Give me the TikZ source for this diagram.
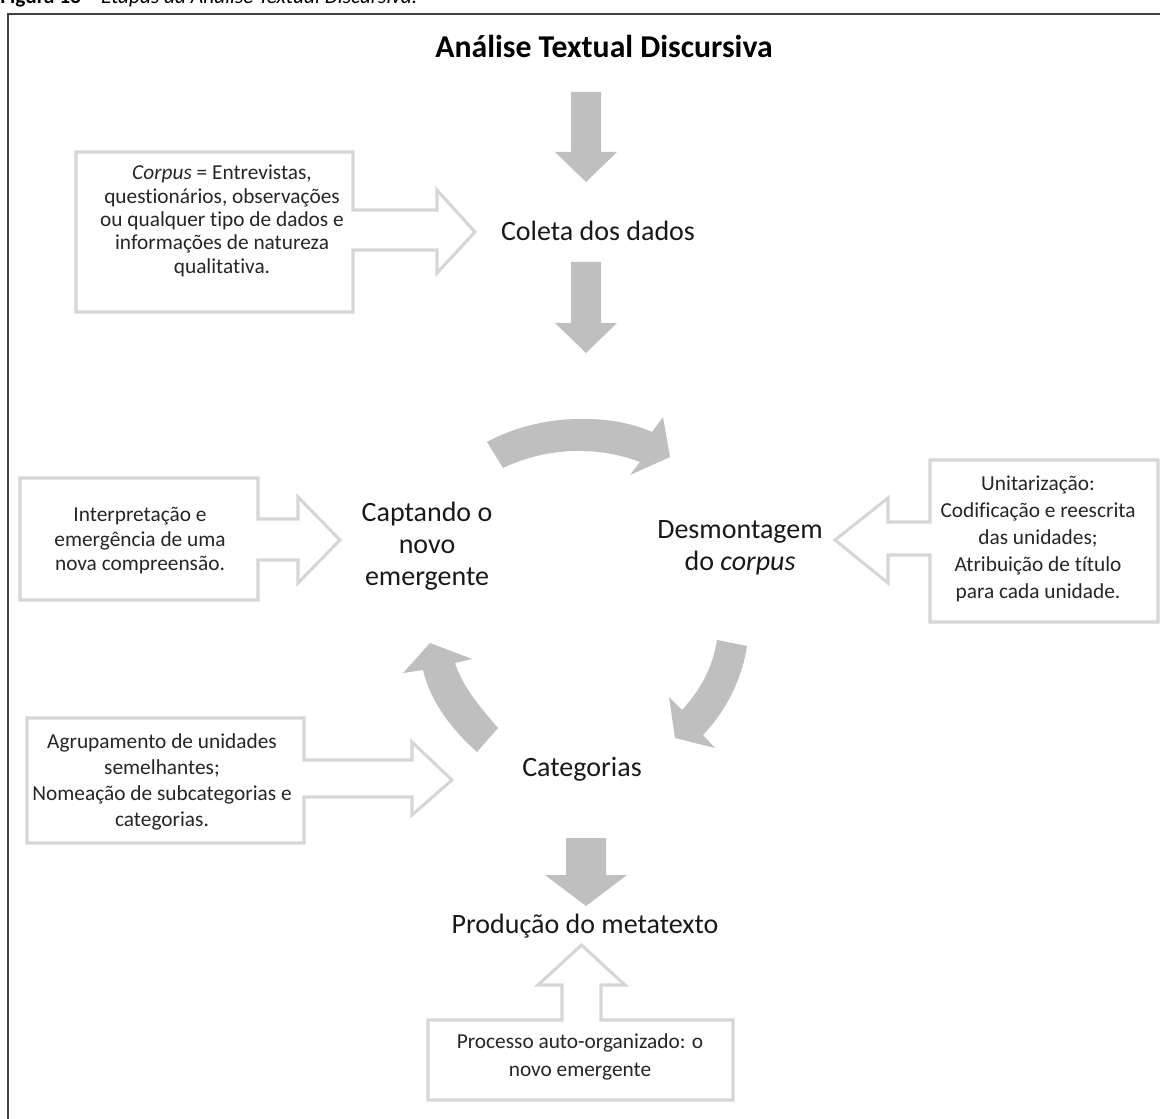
\documentclass[tikz,border=0pt]{standalone}
\usepackage{fontspec}
\setmainfont{Carlito}[Ligatures=NoCommon]
\definecolor{arrowfill}{RGB}{191,191,191}
\definecolor{boxline}{RGB}{214,214,214}
\definecolor{frameline}{RGB}{64,64,64}
\begin{document}
\begin{tikzpicture}[x=0.75pt,y=-0.75pt,
  solidarrow/.style={fill=arrowfill,draw=none},
  callout/.style={draw=boxline,line width=2.3pt,line join=miter,fill=white},
  boxtext/.style={align=center,inner sep=0pt,text=black!85},
  mainlabel/.style={align=center,inner sep=0pt,font=\fontsize{21}{24}\selectfont,text=black!90}]
\useasboundingbox (0,0) rectangle (1160,1119);
\clip (0,0) rectangle (1160,1119);
% caption (cut at top, as in the reference)
\node[anchor=base west,inner sep=0pt,font=\fontsize{16}{18}\selectfont] (cap) at (0,4) {\textbf{Figura 13 –} \textit{Etapas da Análise Textual Discursiva.}};
% frame
\draw[frameline,line width=1.2pt] (8,1300) -- (8,14) -- (1300,14);
% title
\node[inner sep=0pt,font=\fontsize{23.8}{26}\bfseries\selectfont] (title) at (604,46) {Análise Textual Discursiva};
% straight solid arrows
\path[solidarrow] (571,92) -- (601,92) -- (601,152) -- (617,152) -- (586,182) -- (555,152) -- (571,152) -- cycle;
\path[solidarrow] (571,262) -- (601,262) -- (601,323) -- (617,323) -- (586,353) -- (555,323) -- (571,323) -- cycle;
\path[solidarrow] (566,838) -- (606,838) -- (606,875) -- (627,875) -- (586,906) -- (545,875) -- (566,875) -- cycle;
% curved solid arrows
\path[solidarrow] (487,442) .. controls (540,413) and (610,413) .. (652,432) -- (663,417) -- (670,457) -- (630,475) -- (640,462) .. controls (595,445) and (545,448) .. (503,468) -- cycle;
\path[solidarrow] (717,640) .. controls (712,670) and (700,690) .. (682,710) -- (669,697) -- (675,738) -- (715,748) -- (703,735) .. controls (725,712) and (742,680) .. (747,646) -- cycle;
\path[solidarrow] (498,728) .. controls (478,705) and (462,685) .. (455,663) -- (472,659) -- (430,643) -- (403,673) -- (423,670) .. controls (430,700) and (450,728) .. (477,752) -- cycle;
% callouts
\draw[callout] (76,152) -- (353,152) -- (353,210) -- (437,210) -- (437,190) -- (475,232) -- (437,273) -- (437,250) -- (353,250) -- (353,312) -- (76,312) -- cycle;
\draw[callout] (20,478) -- (258,478) -- (258,519) -- (298,519) -- (298,497) -- (340,540) -- (298,583) -- (298,560) -- (258,560) -- (258,600) -- (20,600) -- cycle;
\draw[callout] (1158,460) -- (930,460) -- (930,522) -- (888,522) -- (888,498) -- (835,540) -- (888,583) -- (888,555) -- (930,555) -- (930,622) -- (1158,622) -- cycle;
\draw[callout] (27,718) -- (304,718) -- (304,760) -- (412,760) -- (412,742) -- (452,780) -- (412,815) -- (412,797) -- (304,797) -- (304,843) -- (27,843) -- cycle;
\draw[callout] (428,1020) -- (562,1020) -- (562,985) -- (538,985) -- (581.5,945) -- (625,985) -- (601,985) -- (601,1020) -- (733,1020) -- (733,1100) -- (428,1100) -- cycle;
% callout texts
\node[boxtext,font=\fontsize{16}{17.5}\selectfont] (corpus) at (222,221) {\textit{Corpus} = Entrevistas,\\questionários, observações\\ou qualquer tipo de dados e\\informações de natureza\\qualitativa.};
\node[boxtext,font=\fontsize{16}{18.4}\selectfont] (interp) at (140,541) {Interpretação e\\emergência de uma\\nova compreensão.};
\node[boxtext,font=\fontsize{16}{20.3}\selectfont] (unit) at (1038,539) {Unitarização:\\Codificação e reescrita\\das unidades;\\Atribuição de título\\para cada unidade.};
\node[boxtext,font=\fontsize{16}{19.5}\selectfont] (agrup) at (162,782) {Agrupamento de unidades\\semelhantes;\\Nomeação de subcategorias e\\categorias.};
\node[boxtext,font=\fontsize{16}{21}\selectfont] (proc) at (580,1057) {Processo auto-organizado: o\\novo emergente};
% main labels
\node[mainlabel] (coleta) at (598,231) {Coleta dos dados};
\node[mainlabel] (captando) at (427,546) {Captando o\\novo\\emergente};
\node[mainlabel] (desmont) at (740,548) {Desmontagem\\do \textit{corpus}};
\node[mainlabel] (categ) at (582,769) {Categorias};
\node[mainlabel] (producao) at (585,926) {Produção do metatexto};
\end{tikzpicture}
\end{document}
